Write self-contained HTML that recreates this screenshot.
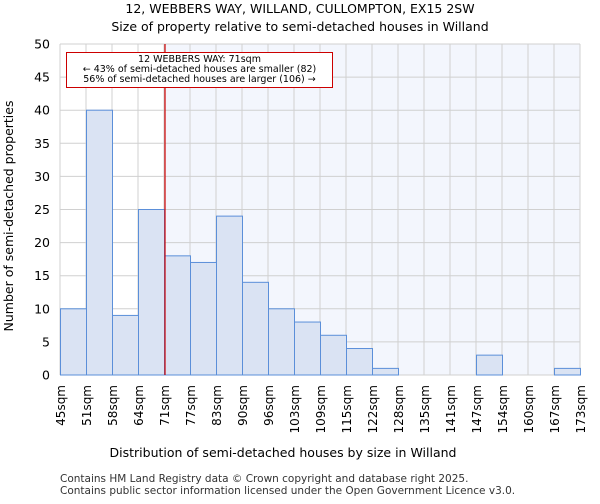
<!DOCTYPE html>
<html><head><meta charset="utf-8"><style>
body{margin:0;background:#fff;font-family:"DejaVu Sans","Liberation Sans",sans-serif;}
</style></head><body>
<svg width="600" height="500" xmlns="http://www.w3.org/2000/svg" font-family="DejaVu Sans, Liberation Sans, sans-serif">
<text x="300" y="13" text-anchor="middle" font-size="12.5">12, WEBBERS WAY, WILLAND, CULLOMPTON, EX15 2SW</text>
<text x="300" y="31" text-anchor="middle" font-size="12.5">Size of property relative to semi-detached houses in Willand</text>
<g id="plot"></g>
<text x="283" y="457" text-anchor="middle" font-size="12.5">Distribution of semi-detached houses by size in Willand</text>
<text transform="translate(13,216) rotate(-90)" text-anchor="middle" font-size="12.5">Number of semi-detached properties</text>
<text x="60" y="482" font-size="10.5" fill="#333">Contains HM Land Registry data © Crown copyright and database right 2025.</text>
<text x="60" y="494" font-size="10.5" fill="#333">Contains public sector information licensed under the Open Government Licence v3.0.</text>
</svg>
<script>
const categories=["45sqm","51sqm","58sqm","64sqm","71sqm","77sqm","83sqm","90sqm","96sqm","103sqm","109sqm","115sqm","122sqm","128sqm","135sqm","141sqm","147sqm","154sqm","160sqm","167sqm","173sqm"];
const counts=[10,40,9,25,18,17,24,14,10,8,6,4,1,0,0,0,3,0,0,1];
const yTicks=[0,5,10,15,20,25,30,35,40,45,50];
const markerIndex=4;
const NS="http://www.w3.org/2000/svg";
const g=document.getElementById('plot');
const x0=60,x1=580,y0=375,y1=44,yMax=50;
const bw=(x1-x0)/counts.length;
const X=i=>x0+i*bw;
const Y=v=>y0-(v/yMax)*(y0-y1);
function mk(tag,attrs){const e=document.createElementNS(NS,tag);for(const k in attrs)e.setAttribute(k,attrs[k]);g.appendChild(e);return e;}
const mx=X(markerIndex)+1;
let bg=mk('rect',{x:mx,y:y1,width:x1-mx,height:y0-y1,fill:'#f3f6fd'});


for(let i=0;i<categories.length;i++){
 const l=mk('line',{x1:X(i),x2:X(i),y1:y1,y2:y0,stroke:'#d0d0d0','stroke-width':1});
 
 
 const t=mk('text',{transform:`translate(${X(i)+5},${y0+10}) rotate(-90)`,'text-anchor':'end','font-size':12});
 t.textContent=categories[i];
 
 
}
yTicks.forEach(v=>{
 const l=mk('line',{x1:x0,x2:x1,y1:Y(v),y2:Y(v),stroke:'#d0d0d0','stroke-width':1});
 
 
 const t=mk('text',{x:x0-10,y:Y(v)+4.5,'text-anchor':'end','font-size':12.5});
 t.textContent=v;
 
 
});
counts.forEach((c,i)=>{
 if(c<=0)return;
 const r=mk('rect',{x:X(i)+0.5,y:Y(c),width:bw,height:y0-Y(c),fill:'#dae3f3',stroke:'#5b8fd9','stroke-width':1});
 
 
});
const ml=mk('line',{x1:mx,x2:mx,y1:y1,y2:y0,stroke:'#cc0000','stroke-width':1.2});


const box=mk('rect',{x:66.5,y:52.5,width:266,height:35,fill:'#fff',stroke:'#cc0000','stroke-width':1});


const lines=["12 WEBBERS WAY: 71sqm","← 43% of semi-detached houses are smaller (82)","56% of semi-detached houses are larger (106) →"];
lines.forEach((s,k)=>{
 const t=mk('text',{x:199.5,y:62+k*10,'text-anchor':'middle','font-size':9.5});
 t.textContent=s;
 
 
});
</script>
</body></html>
